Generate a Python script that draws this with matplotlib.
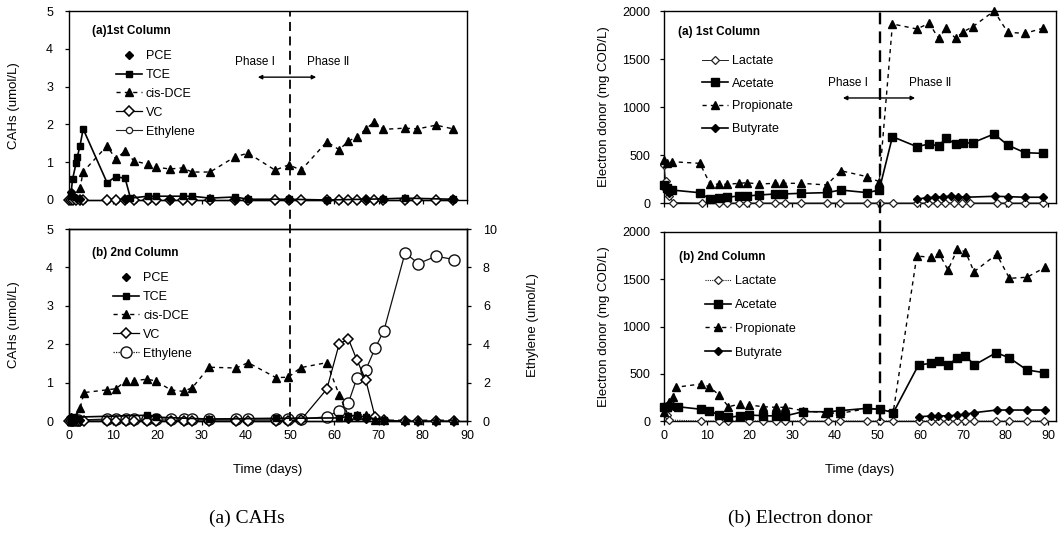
import numpy as np
import matplotlib
matplotlib.use("Agg")
import matplotlib.pyplot as plt
from matplotlib.lines import Line2D

plt.rcParams['font.family'] = ['Liberation Sans', 'DejaVu Sans']

# ---------------- data: (a) CAHs, 1st column ----------------
a1_days = [0, 0.5, 1.0, 1.5, 2.5, 3.2, 8.6, 10.6, 12.7, 14.7, 17.8, 19.6, 22.8, 25.7, 27.8,
           31.9, 37.5, 40.5, 46.6, 49.7, 52.5, 58.3, 61.1, 63.2, 65.1, 67.1, 69.0, 71.1,
           76.0, 78.8, 83.0, 86.9]
a1_vc = [0.0] * len(a1_days)
a1_eth = [0.0] * len(a1_days)
a1_dce_days = [0.6, 2.5, 3.2, 8.6, 10.6, 12.7, 14.7, 17.8, 19.6, 22.8, 25.7, 27.8, 31.9,
               37.5, 40.5, 46.6, 49.7, 52.5, 58.3, 61.1, 63.2, 65.1, 67.1, 69.0, 71.1,
               76.0, 78.8, 83.0, 86.9]
a1_dce = [0.18, 0.32, 0.75, 1.43, 1.08, 1.30, 1.03, 0.95, 0.87, 0.82, 0.85, 0.74, 0.74,
          1.14, 1.24, 0.79, 0.93, 0.79, 1.54, 1.33, 1.56, 1.67, 1.87, 2.07, 1.87,
          1.90, 1.88, 1.98, 1.88]
a1_tce_days = [0.4, 0.8, 1.6, 1.9, 2.5, 3.2, 8.6, 10.6, 12.7, 13.9, 17.8, 19.6, 25.7,
               27.8, 31.9, 37.5, 40.5, 49.7, 58.3, 71.1, 76.0, 86.9]
a1_tce = [0.10, 0.55, 0.97, 1.15, 1.44, 1.88, 0.46, 0.62, 0.57, 0.05, 0.10, 0.10, 0.10,
          0.10, 0.05, 0.08, 0.02, 0.02, 0.00, 0.03, 0.05, 0.02]
a1_pce_days = [0.4, 1.0, 1.5, 2.5, 12.7, 22.8, 37.5, 49.7, 67.1, 86.9]
a1_pce = [0.20, 0.10, 0.05, 0.02, 0.02, 0.02, 0.02, 0.02, 0.02, 0.02]

# ---------------- data: (a) CAHs, 2nd column ----------------
b1_days = [0, 0.5, 1, 1.5, 2, 2.5, 3.4, 8.5, 10.6, 12.9, 14.7, 17.7, 19.7, 23.0, 25.9,
           27.9, 31.7, 37.8, 40.5, 46.8, 49.6, 52.4, 58.3, 61.1, 63.2, 65.1, 67.1, 69.2,
           71.2, 76.0, 79.0, 83.0, 87.1]
b1_vc = [0, 0, 0, 0, 0, 0, 0, 0, 0, 0, 0, 0, 0, 0, 0, 0, 0, 0, 0, 0, 0, 0.02, 0.83, 2.01,
         2.13, 1.59, 1.07, 0.11, 0.02, 0, 0, 0, 0]
b1_dce_days = [0.5, 1.5, 2.5, 3.4, 8.5, 10.6, 12.9, 14.7, 17.7, 19.7, 23.0, 25.9, 27.9,
               31.7, 37.8, 40.5, 46.8, 49.6, 52.4, 58.3, 61.1, 63.2, 65.1, 67.1, 69.2,
               71.2, 76.0, 79.0, 83.0, 87.1]
b1_dce = [0.0, 0.10, 0.33, 0.74, 0.81, 0.84, 1.05, 1.05, 1.09, 1.04, 0.81, 0.77, 0.87,
          1.40, 1.38, 1.52, 1.13, 1.14, 1.39, 1.52, 0.68, 0.13, 0.16, 0.16, 0.03,
          0.02, 0.02, 0.02, 0.02, 0.02]
b1_eth_days = [0.5, 1, 2, 8.5, 10.6, 12.9, 14.7, 17.7, 19.7, 23.0, 25.9, 27.9, 31.7,
               37.8, 40.5, 46.8, 49.6, 52.4, 58.3, 61.1, 63.2, 65.1, 67.1, 69.2, 71.2,
               76.0, 79.0, 83.0, 87.1]
b1_eth = [0.05, 0.05, 0.05, 0.1, 0.1, 0.1, 0.1, 0.1, 0.1, 0.1, 0.1, 0.1, 0.1,
          0.1, 0.1, 0.1, 0.1, 0.1, 0.22, 0.54, 0.96, 2.23, 2.66, 3.78, 4.70,
          8.76, 8.20, 8.58, 8.41]
b1_tce_days = [0.5, 1, 17.7, 19.7, 31.7, 46.8, 61.1, 63.2, 65.1, 67.1, 71.2]
b1_tce = [0.05, 0.10, 0.15, 0.10, 0.05, 0.07, 0.08, 0.12, 0.15, 0.10, 0.02]
b1_pce_days = [0.5, 1.5, 2.5, 63.2, 65.1, 67.1]
b1_pce = [0.10, 0.05, 0.02, 0.05, 0.10, 0.05]

# ---------------- data: (b) electron donor, 1st column ----------------
a2_days = [0, 0.6, 1.9, 8.4, 10.8, 12.9, 14.8, 17.6, 19.4, 22.2, 26.0, 27.9, 32.2, 38.1,
           41.4, 47.6, 50.4, 53.5, 59.2, 62.1, 64.3, 66.0, 68.3, 70.1, 72.3, 77.3, 80.5,
           84.5, 88.7]
a2_prop = [448, 413, 430, 413, 198, 195, 195, 205, 211, 198, 205, 205, 205, 188,
           336, 274, 222, 1865, 1813, 1872, 1715, 1820, 1715, 1784, 1836, 2000, 1778,
           1767, 1820]
a2_acet = [190, 160, 135, 107, 38, 49, 60, 73, 73, 83, 94, 94, 101, 108,
           135, 108, 135, 691, 587, 615, 594, 674, 615, 622, 628, 719, 604, 524, 517]
a2_lact_days = [0, 0.4, 1.2, 2.2, 8.8, 12.9, 14.8, 17.6, 19.4, 22.2, 26.0, 28.3, 32.2,
                38.1, 41.2, 47.6, 50.6, 53.7, 59.2, 61.9, 63.9, 65.8, 67.8, 69.7, 71.7,
                77.9, 80.6, 84.5, 88.7]
a2_lact = [400, 230, 70, 5, 0, 0, 0, 0, 0, 0, 0, 0, 0, 0, 0, 0, 0, 0, 0, 0, 0, 0, 0, 0,
           0, 0, 0, 0, 0]
a2_buty_days = [0, 0.6, 1.2, 30.0, 59.2, 61.5, 63.5, 65.4, 67.2, 68.9, 70.7, 77.5, 80.6,
                84.5, 88.7]
a2_buty = [170, 140, 100, None, 40, 55, 60, 66, 70, 66, 60, 70, 66, 60, 60]

# ---------------- data: (b) electron donor, 2nd column ----------------
b2_prop_days = [0, 0.6, 1.2, 2.2, 2.8, 8.7, 10.6, 12.9, 15.1, 17.8, 20.0, 23.3, 26.2,
                28.3, 32.5, 37.7, 41.2, 47.5, 50.6, 53.7, 59.2, 62.5, 64.4, 66.5, 68.7,
                70.6, 72.6, 77.9, 80.9, 85.0, 89.3]
b2_prop = [100, 150, 200, 257, 357, 392, 363, 275, 151, 180, 169, 151, 145,
           145, 110, 88, 81, 130, 124, 98, 1746, 1732, 1774, 1598, 1817,
           1791, 1580, 1764, 1510, 1521, 1627]
b2_acet_days = [0, 0.6, 3.3, 8.7, 10.6, 12.9, 15.1, 17.8, 20.0, 23.3, 26.2, 28.3, 32.5,
                38.3, 41.2, 47.5, 50.7, 53.7, 59.6, 62.5, 64.5, 66.6, 68.5, 70.6, 72.7,
                77.8, 80.8, 85.0, 89.1]
b2_acet = [150, 145, 151, 124, 109, 63, 40, 53, 63, 56, 53, 53, 98,
           98, 109, 134, 124, 88, 593, 610, 638, 593, 663, 688, 593,
           723, 670, 540, 511]
b2_buty_days = [0, 0.6, 1.2, 2.2, 3.3, 30.0, 59.6, 62.5, 64.2, 66.6, 68.5, 70.6, 72.6,
                77.9, 80.9, 85.0, 89.3]
b2_buty = [140, 160, 175, 160, 150, None, 45, 53, 56, 53, 63, 70, 88, 116, 116, 116, 116]
b2_lact_days = [0, 0.6, 1.2, 8.7, 12.9, 15.1, 20.0, 23.3, 26.2, 28.3, 32.5, 38.3, 41.2,
                47.5, 50.7, 53.7, 59.6, 62.5, 64.5, 66.6, 68.5, 70.6, 72.7, 77.8, 80.8,
                85.0, 89.1]
b2_lact = [150, 60, 10] + [0] * 24

xticks = [0, 10, 20, 30, 40, 50, 60, 70, 80, 90]
cah_ticks = [0, 1, 2, 3, 4, 5]
eth_ticks = [0, 2, 4, 6, 8, 10]
ed_ticks = [0, 500, 1000, 1500, 2000]


def arr(v):
    return np.array([np.nan if x is None else x for x in v], dtype=float)


W, H = 1064, 541
fig = plt.figure(figsize=(W / 100, H / 100), dpi=100)


def frac(l, t, r, b):
    return [l / W, (H - b) / H, (r - l) / W, (b - t) / H]


ax1 = fig.add_axes(frac(69, 11, 467, 200))
ax2 = fig.add_axes(frac(69, 229, 467, 421))
ax3 = fig.add_axes(frac(664, 11, 1056, 203))
ax4 = fig.add_axes(frac(664, 232, 1056, 421))
ax2r = ax2.twinx()

TFS = 9
for ax in (ax1, ax2, ax3, ax4, ax2r):
    ax.tick_params(labelsize=TFS, length=3, width=0.9, direction='out')
    for s in ax.spines.values():
        s.set_linewidth(1.0)
for ax in (ax1, ax2, ax2r):
    ax.tick_params(axis='y', pad=8.5)
for ax in (ax3, ax4):
    ax.tick_params(axis='y', pad=7)

LFS = 9.5
for ax in (ax1, ax2):
    ax.set_xlim(0, 90)
    ax.set_ylim(0, 5)
    ax.set_xticks(xticks)
    ax.set_yticks(cah_ticks)
    ax.set_ylabel('CAHs (umol/L)', fontsize=LFS)
    ax.yaxis.set_label_coords((20 - 69) / 398, 0.5)
for ax in (ax3, ax4):
    ax.set_xlim(0, 91.8)
    ax.set_ylim(0, 2000)
    ax.set_xticks(xticks)
    ax.set_yticks(ed_ticks)
    ax.set_ylabel('Electron donor (mg COD/L)', fontsize=LFS)
    ax.yaxis.set_label_coords((610 - 664) / 392, 0.5)
ax1.tick_params(labelbottom=False)
ax3.tick_params(labelbottom=False)
ax2.set_xlabel('Time (days)', fontsize=LFS)
ax2.xaxis.set_label_coords(0.5, (421 - 464) / 192)
ax4.set_xlabel('Time (days)', fontsize=LFS)
ax4.xaxis.set_label_coords(0.5, (421 - 464) / 189)
ax2r.set_ylim(0, 10)
ax2r.set_yticks(eth_ticks)
ax2r.set_ylabel('Ethylene (umol/L)', fontsize=LFS)
ax2r.yaxis.set_label_coords((527 - 69) / 398, 0.5)

K = 'black'
st_pce = dict(color=K, marker='D', ms=4, ls='none')
st_tce = dict(color=K, marker='s', ms=5, ls='-', lw=1.2)
st_dce = dict(color=K, marker='^', ms=5.5, ls=(0, (3, 3)), lw=1.0)
st_vc = dict(color=K, marker='D', ms=5, mfc='white', mew=1.1, ls='-', lw=0.9)
st_eth_a = dict(color='#222222', marker='o', ms=4.5, mfc='white', mew=0.9, ls='-', lw=0.8)
st_eth_b = dict(color='#111111', marker='o', ms=8, mfc='white', mew=1.0, ls='-', lw=0.9)

# (a) 1st column
ax1.plot(a1_days, a1_eth, clip_on=False, zorder=3, **st_eth_a)
ax1.plot(a1_days, a1_vc, clip_on=False, zorder=3, **st_vc)
ax1.plot(a1_tce_days, a1_tce, clip_on=False, zorder=4, **st_tce)
ax1.plot(a1_dce_days, a1_dce, clip_on=False, zorder=4, **st_dce)
ax1.plot(a1_pce_days, a1_pce, clip_on=False, zorder=4, **st_pce)

# (a) 2nd column
ax2r.plot(b1_eth_days, b1_eth, clip_on=False, zorder=3, **st_eth_b)
ax2.set_zorder(ax2r.get_zorder() + 1)
ax2.patch.set_visible(False)
ax2.plot(b1_days, b1_vc, clip_on=False, zorder=3, **st_vc)
ax2.plot(b1_tce_days, b1_tce, clip_on=False, zorder=4, **st_tce)
ax2.plot(b1_dce_days, b1_dce, clip_on=False, zorder=4, **st_dce)
ax2.plot(b1_pce_days, b1_pce, clip_on=False, zorder=4, **st_pce)

st_lac_a = dict(color='#222222', marker='D', ms=4.5, mfc='white', mew=0.9, ls='-', lw=0.7)
st_lac_b = dict(color='#222222', marker='D', ms=4.5, mfc='white', mew=0.9, ls=(0, (1, 1)), lw=0.8)
st_ace = dict(color=K, marker='s', ms=5.5, ls='-', lw=1.2)
st_pro = dict(color=K, marker='^', ms=6, ls=(0, (3, 3)), lw=1.0)
st_but = dict(color=K, marker='D', ms=4, ls='-', lw=1.2)

ax3.plot(a2_lact_days, a2_lact, clip_on=False, zorder=3, **st_lac_a)
ax3.plot(a2_days, a2_acet, clip_on=False, zorder=4, **st_ace)
ax3.plot(a2_days, a2_prop, clip_on=False, zorder=4, **st_pro)
ax3.plot(a2_buty_days, arr(a2_buty), clip_on=False, zorder=4, **st_but)

ax4.plot(b2_lact_days, b2_lact, clip_on=False, zorder=3, **st_lac_b)
ax4.plot(b2_acet_days, b2_acet, clip_on=False, zorder=4, **st_ace)
ax4.plot(b2_prop_days, b2_prop, clip_on=False, zorder=4, **st_pro)
ax4.plot(b2_buty_days, arr(b2_buty), clip_on=False, zorder=4, **st_but)

# phase dividers
top_ext_l = (421 - 11) / 192
ax2.plot([50, 50], [0, top_ext_l], transform=ax2.get_xaxis_transform(), color=K,
         ls=(0, (5, 3)), lw=1.3, clip_on=False, zorder=5)
top_ext_r = (421 - 11) / 189
ax4.plot([50.5, 50.5], [0, top_ext_r], transform=ax4.get_xaxis_transform(), color=K,
         ls=(0, (5, 3)), lw=1.7, clip_on=False, zorder=5)

ph1, ph2 = 'Phase \u2160', 'Phase \u2161'
PFS = 8.5
ax1.text(42, 3.65, ph1, ha='center', va='center', fontsize=PFS)
ax1.text(58.6, 3.65, ph2, ha='center', va='center', fontsize=PFS)
ax1.annotate('', xy=(42.7, 3.25), xytext=(55.9, 3.25),
             arrowprops=dict(arrowstyle='<|-|>', color=K, lw=1.0,
                             mutation_scale=6, shrinkA=0, shrinkB=0))
ax3.text(43.1, 1250, ph1, ha='center', va='center', fontsize=PFS)
ax3.text(62.3, 1250, ph2, ha='center', va='center', fontsize=PFS)
ax3.annotate('', xy=(41.9, 1094), xytext=(58.8, 1094),
             arrowprops=dict(arrowstyle='<|-|>', color=K, lw=1.0,
                             mutation_scale=6, shrinkA=0, shrinkB=0))

# panel titles
TTS = 8.5
ax1.text(0.058, 0.895, '(a)1st Column', transform=ax1.transAxes, fontsize=TTS,
         fontweight='bold', va='center')
ax2.text(0.058, 0.875, '(b) 2nd Column', transform=ax2.transAxes, fontsize=TTS,
         fontweight='bold', va='center')
ax3.text(0.035, 0.89, '(a) 1st Column', transform=ax3.transAxes, fontsize=TTS,
         fontweight='bold', va='center')
ax4.text(0.037, 0.87, '(b) 2nd Column', transform=ax4.transAxes, fontsize=TTS,
         fontweight='bold', va='center')


def proxy(st):
    return Line2D([], [], **st)


leg_kw = dict(frameon=False, fontsize=9, loc='upper left', borderpad=0,
              borderaxespad=0, handletextpad=0.3, handlelength=2.1)
lab_cah = ['PCE', 'TCE', 'cis-DCE', 'VC', 'Ethylene']
l1 = ax1.legend([proxy(st_pce), proxy(st_tce), proxy(st_dce), proxy(st_vc), proxy(st_eth_a)],
                lab_cah, bbox_to_anchor=((116 - 69) / 398, (200 - 50) / 189),
                labelspacing=0.55, **leg_kw)
st_eth_leg = dict(st_eth_b)
st_eth_leg['ls'] = (0, (1, 1))
l2 = ax2.legend([proxy(st_pce), proxy(st_tce), proxy(st_dce), proxy(st_vc), proxy(st_eth_leg)],
                lab_cah, bbox_to_anchor=((113 - 69) / 398, (421 - 272) / 192),
                labelspacing=0.55, **leg_kw)
lab_ed = ['Lactate', 'Acetate', 'Propionate', 'Butyrate']
l3 = ax3.legend([proxy(st_lac_a), proxy(st_ace), proxy(st_pro), proxy(st_but)],
                lab_ed, bbox_to_anchor=((702 - 664) / 392, (203 - 55) / 192),
                labelspacing=0.85, **leg_kw)
l4 = ax4.legend([proxy(st_lac_b), proxy(st_ace), proxy(st_pro), proxy(st_but)],
                lab_ed, bbox_to_anchor=((705 - 664) / 392, (421 - 275) / 189),
                labelspacing=0.95, **leg_kw)

fig.text(247 / W, 1 - 518 / H, '(a) CAHs', ha='center', va='center',
         fontsize=14, family='Liberation Serif')
fig.text(800 / W, 1 - 518 / H, '(b) Electron donor', ha='center', va='center',
         fontsize=14, family='Liberation Serif')

fig.savefig('out.png', dpi=100)
